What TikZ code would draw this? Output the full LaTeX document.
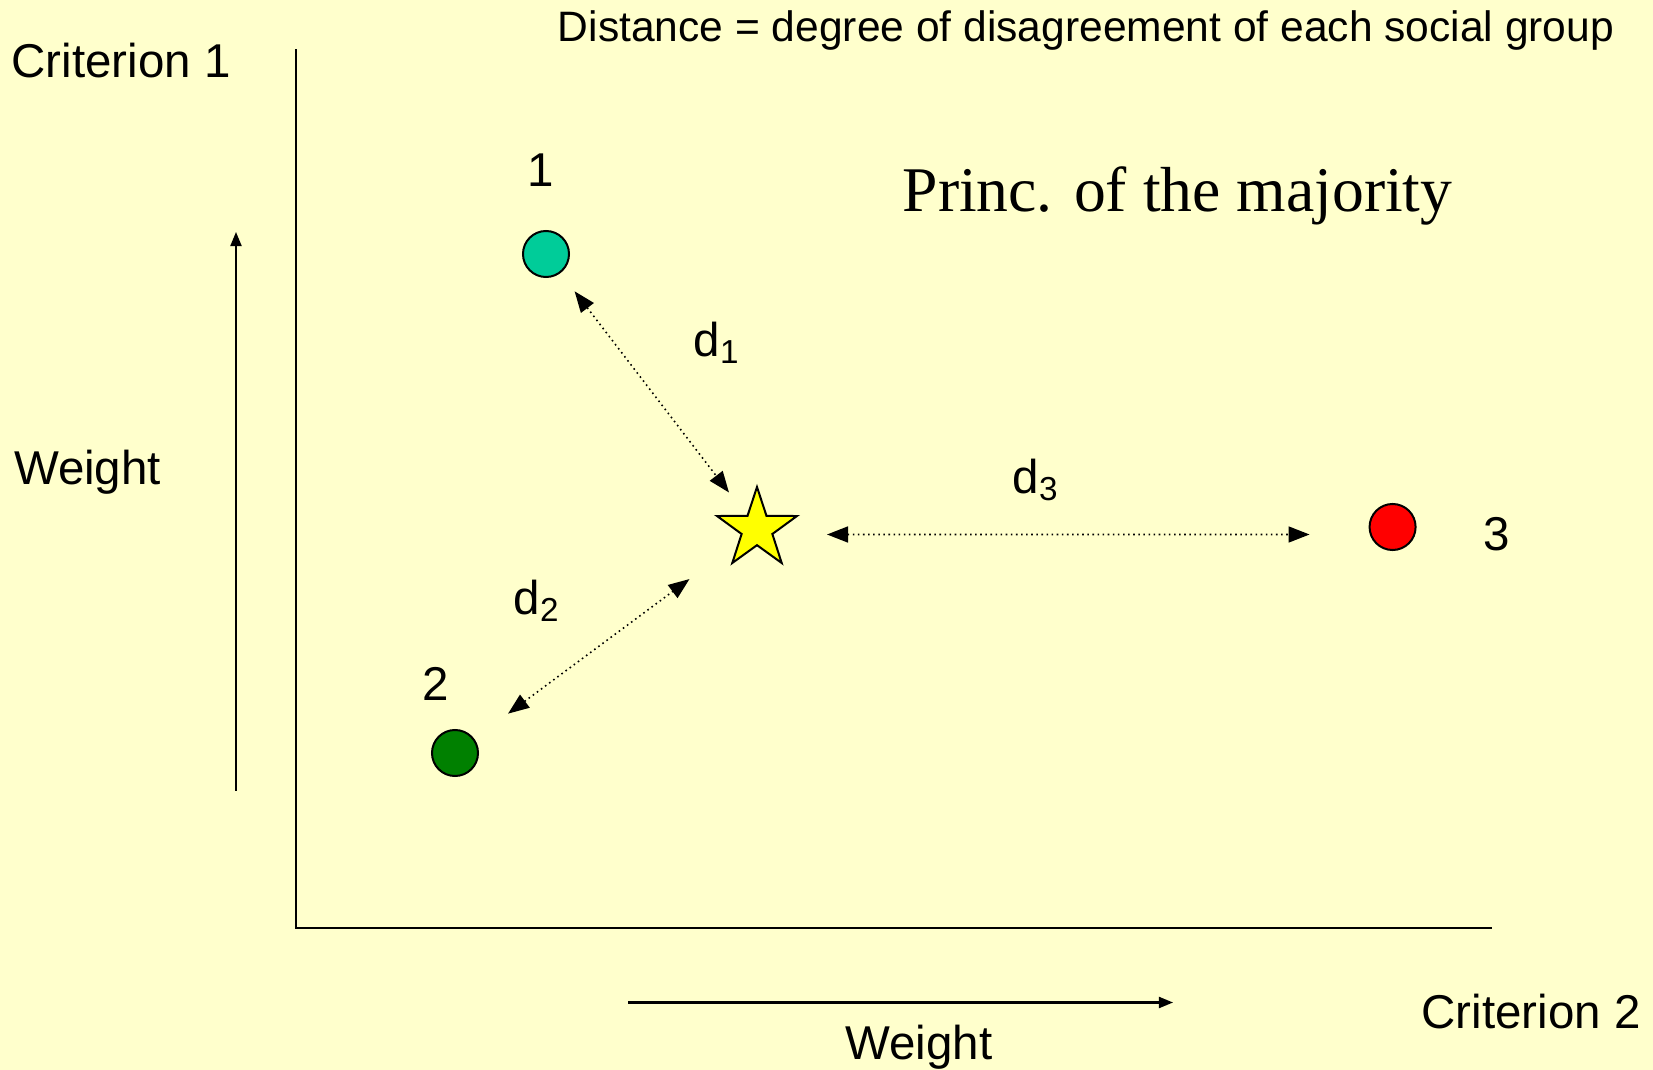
\documentclass[tikz,border=0pt]{standalone}
\usepackage{fontspec}
\setmainfont{Liberation Sans}
\newfontfamily\timesfont{Liberation Serif}
\usepackage{tikz}
\usetikzlibrary{positioning,arrows.meta,shapes.geometric}
\usepackage{xcolor}
\definecolor{paper}{HTML}{FFFFCC}
\definecolor{groupA}{HTML}{00CC99}
\definecolor{groupB}{HTML}{008000}
\definecolor{groupC}{HTML}{FF0000}
\definecolor{starfill}{HTML}{FFFF00}
\tikzset{
  >={Triangle[length=0.14cm,width=0.11cm]},
  group/.style={circle,draw,line width=0.02cm,minimum size=0.46cm,inner sep=0pt},
  dist/.style={{Triangle[length=0.21cm,width=0.16cm]}-{Triangle[length=0.21cm,width=0.16cm]},
    line width=0.45pt,densely dotted},
  axis/.style={line width=0.02cm},
}

\begin{document}
\begin{tikzpicture}[
  x=0.01cm,y=-0.01cm,
  every node/.style={font=\fontsize{13.5}{16}\selectfont},
  num/.style={inner sep=0pt}
]

\fill[paper] (0,0) rectangle (1653,1070);
\useasboundingbox (0,0) rectangle (1653,1070);

% axes
\draw[axis] (296,49.5) -- (296,928) -- (1492,928);
\draw[axis,->] (236,791) -- (236,232);
\draw[axis,->] (628,1002.5) -- (1173,1002.5);

\node at (121,61) {Criterion 1};
\node at (87.5,472) {Weight};
\node at (1531,1012) {Criterion 2};
\node at (919,1047) {Weight};
\node[font=\fontsize{12.1}{14}\selectfont] at (1086,31) {Distance = degree of disagreement of each social group};
\node[font=\timesfont\fontsize{18.1}{22}\selectfont] at (1177.5,196) {Princ. of the majority};

% groups and compromise
\node[group,fill=groupA] (c1) at (546,254) {};
\node[group,fill=groupB] (c2) at (455,753) {};
\node[group,fill=groupC] (c3) at (1392.6,527) {};
\node[star,star points=5,star point ratio=2.6,draw,fill=starfill,line width=0.02cm,
      minimum size=0.84cm,inner sep=0pt] (st) at (757,529) {};

\node[num,above=0.43cm of c1,xshift=-0.05cm] (n1) {1};
\node[num,above=0.28cm of c2,xshift=-0.19cm] (n2) {2};
\node[num,right=0.66cm of c3,yshift=-0.07cm] (n3) {3};

% distances
\draw[dist,shorten <=0.47cm,shorten >=0.46cm] (c1.center) -- (st.center);
\draw[dist,shorten <=0.66cm,shorten >=0.84cm] (c2.center) -- (st.center);
\draw[dist,shorten <=0.70cm,shorten >=0.83cm] ([yshift=-0.055cm]st.center) -- ([yshift=-0.075cm]c3.center);

\node at (717,343) {d\textsubscript{1}};
\node at (537,601) {d\textsubscript{2}};
\node at (1036,480) {d\textsubscript{3}};

\end{tikzpicture}
\end{document}
